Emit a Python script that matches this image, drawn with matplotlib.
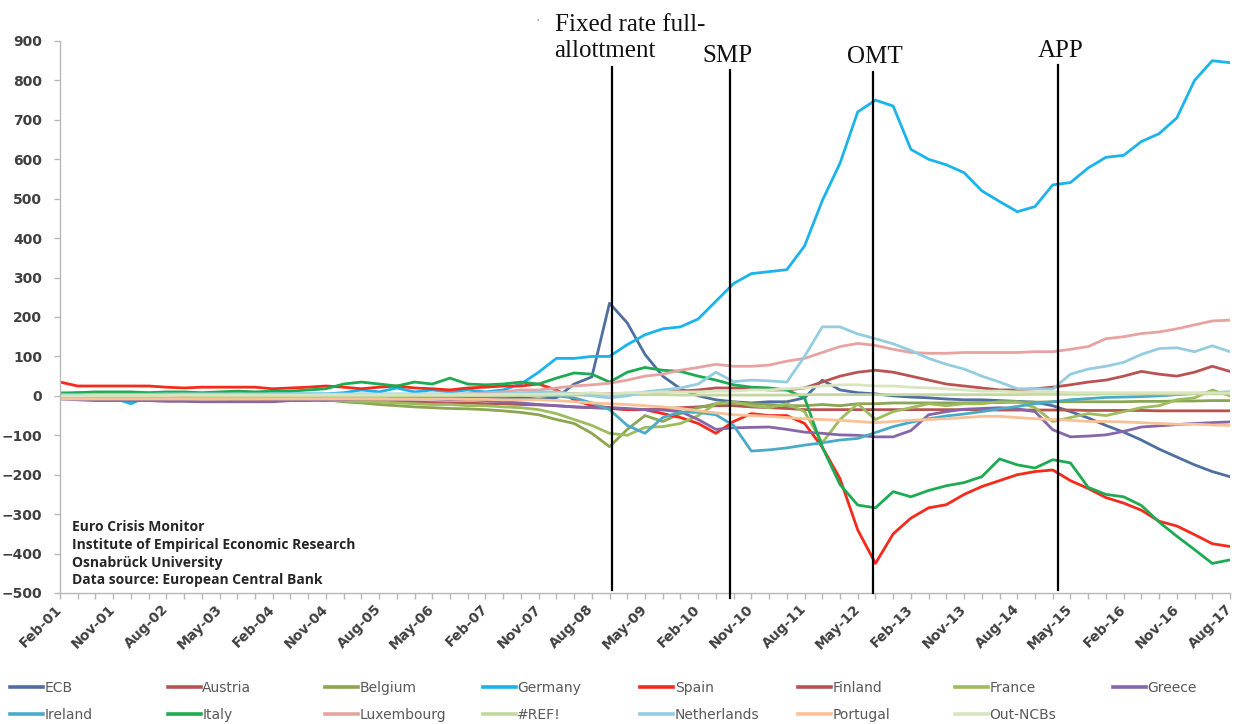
import numpy as np
import matplotlib
matplotlib.use("Agg")
import matplotlib.pyplot as plt
from matplotlib.lines import Line2D

# ---------------- data (quarterly readings, Feb-01 .. Aug-17) ----------------
month_index = list(range(0, 199, 3))   # months since Feb-01

ECB = [-5,-5,-5,-6,-6,-5,-5,-6,-6,-5,
       -5,-5,-6,-6,-5,-5,-5,-5,-6,-6,
       -5,-5,-5,-6,-6,-5,-5,-8,-5,30,
       48,235,185,105,50,18,0,-10,-15,-18,
       -15,-15,-5,40,15,8,5,0,-3,-5,
       -8,-10,-10,-12,-14,-16,-25,-40,-56,-75,
       -92,-112,-135,-155,-175,-192,-205]
Austria = [-5,-5,-6,-6,-6,-7,-7,-8,-8,-8,
           -9,-9,-10,-10,-10,-12,-12,-14,-15,-15,
           -16,-17,-18,-18,-20,-20,-22,-23,-25,-28,
           -30,-32,-35,-35,-33,-30,-28,-25,-25,-28,
           -30,-32,-35,-35,-35,-35,-35,-35,-35,-35,
           -35,-35,-35,-36,-36,-36,-36,-36,-37,-37,
           -37,-37,-38,-38,-38,-38,-38]
Belgium = [8,8,8,8,8,7,7,7,6,6,
           5,5,3,0,-5,-10,-15,-18,-22,-25,
           -28,-30,-32,-33,-35,-38,-42,-48,-60,-70,
           -95,-129,-85,-50,-65,-45,-30,-20,-18,-20,
           -22,-25,-25,-22,-25,-20,-20,-18,-18,-18,
           -18,-18,-17,-17,-16,-16,-15,-15,-15,-15,
           -15,-14,-14,-13,-13,-12,-12]
Germany = [5,5,3,-5,-20,0,3,5,5,3,
           5,5,5,5,5,5,8,15,10,20,
           10,15,10,15,10,15,30,60,95,95,
           100,100,130,155,170,175,195,240,285,310,
           315,320,380,495,590,720,750,735,625,600,
           586,566,520,493,467,480,535,541,578,605,
           610,645,665,705,800,850,845]
Spain = [35,25,25,25,25,25,22,20,22,22,
         22,22,18,20,22,25,22,18,22,25,
         20,18,15,20,22,25,25,30,15,-10,
         -25,-30,-35,-35,-45,-55,-70,-95,-65,-45,
         -50,-50,-70,-130,-210,-340,-425,-350,-310,-284,
         -276,-250,-230,-215,-200,-192,-188,-215,-235,-258,
         -272,-290,-318,-330,-352,-375,-382]
Finland = [0,0,0,0,0,0,-1,-1,-1,-1,
           -1,-1,-1,-2,-2,-2,-2,-2,-2,-2,
           -2,-2,-2,-2,0,2,5,5,5,5,
           5,5,5,8,10,12,15,20,20,18,
           15,15,20,35,50,60,65,60,50,40,
           30,25,20,15,15,18,22,28,35,40,
           50,62,55,50,60,75,62]
France = [0,0,0,0,0,0,0,0,0,0,
          0,-2,-3,-5,-8,-10,-12,-15,-15,-18,
          -20,-22,-22,-25,-25,-28,-30,-35,-45,-60,
          -75,-95,-100,-80,-78,-70,-50,-20,-15,-25,
          -30,-20,-40,-119,-60,-20,-60,-40,-30,-20,
          -25,-20,-20,-15,-15,-30,-65,-55,-45,-50,
          -40,-30,-25,-10,-5,15,0]
Greece = [-8,-10,-12,-12,-12,-12,-14,-14,-15,-15,
          -15,-15,-15,-12,-12,-10,-10,-8,-8,-8,
          -8,-8,-10,-10,-12,-15,-18,-22,-25,-28,
          -30,-30,-32,-35,-36,-40,-60,-85,-81,-80,
          -79,-85,-92,-95,-99,-100,-104,-104,-88,-48,
          -40,-34,-32,-30,-33,-40,-86,-104,-102,-99,
          -90,-79,-76,-73,-70,-68,-66]
Ireland = [2,2,3,3,3,3,3,3,3,3,
           3,3,3,3,3,3,3,3,3,3,
           3,3,3,3,3,3,3,2,0,-5,
           -18,-35,-75,-95,-55,-41,-42,-48,-75,-140,
           -137,-132,-125,-119,-112,-108,-93,-78,-67,-58,
           -51,-46,-40,-33,-27,-20,-15,-10,-7,-4,
           -3,-2,0,3,6,8,10]
Italy = [5,8,10,10,10,8,10,10,8,10,
         12,10,12,12,15,18,30,35,30,25,
         35,30,45,30,28,30,35,30,45,58,
         55,35,60,72,65,62,50,40,28,22,
         20,15,-5,-130,-225,-277,-284,-243,-256,-240,
         -228,-220,-205,-160,-175,-183,-162,-170,-232,-250,
         -256,-278,-320,-356,-390,-425,-416]
Luxembourg = [-5,-5,-5,-5,-5,-5,-5,-5,-5,-5,
              -5,-4,-4,-4,-3,-3,-3,-2,-2,0,
              0,2,3,5,8,10,15,15,20,25,
              28,32,40,50,55,65,72,80,75,75,
              78,88,95,110,125,133,128,118,110,108,
              108,110,110,110,110,112,112,118,125,145,
              150,158,162,170,180,190,192]
REF = [1,1,1,2,2,2,2,2,1,1,
       1,1,1,1,1,0,0,0,0,0,
       0,0,0,0,0,0,1,1,2,2,
       2,3,3,3,3,2,2,2,2,2,
       2,2,3,3,3,3,3,3,3,3,
       3,3,3,3,3,4,4,4,4,5,
       5,5,5,5,5,5,5]
Netherlands = [3,3,4,4,4,4,5,5,5,5,
               5,5,5,5,5,5,5,5,5,5,
               5,5,5,5,5,5,8,10,10,5,
               0,-5,0,10,15,20,30,60,36,40,
               38,35,100,175,175,157,145,132,115,95,
               80,68,50,35,18,18,17,55,68,75,
               85,105,120,122,112,127,112]
Portugal = [-8,-8,-8,-8,-8,-8,-8,-8,-8,-8,
            -8,-8,-8,-8,-8,-8,-8,-8,-8,-8,
            -8,-8,-8,-9,-9,-10,-10,-10,-12,-15,
            -18,-20,-22,-25,-28,-32,-38,-43,-48,-50,
            -52,-55,-58,-60,-62,-65,-68,-65,-62,-60,
            -58,-55,-52,-52,-55,-58,-60,-62,-65,-65,
            -66,-68,-70,-72,-72,-74,-75]
OutNCBs = [0,0,1,1,1,1,1,2,2,2,
           2,2,2,2,2,3,3,3,3,3,
           3,3,3,3,3,4,4,4,5,5,
           8,5,8,8,10,10,10,12,12,15,
           15,18,20,25,28,28,25,25,22,20,
           18,15,12,12,10,10,10,8,8,8,
           8,8,8,8,8,8,8]

series_names = ["ECB", "Austria", "Belgium", "Germany", "Spain", "Finland", "France", "Greece",
                "Ireland", "Italy", "Luxembourg", "#REF!", "Netherlands", "Portugal", "Out-NCBs"]
series_values = [ECB, Austria, Belgium, Germany, Spain, Finland, France, Greece,
                 Ireland, Italy, Luxembourg, REF, Netherlands, Portugal, OutNCBs]
series_colors = ["#4f6fa0", "#b65450", "#8ca552", "#1ab3ea", "#f42a1c", "#bb5252", "#9dbc5c", "#8566a8",
                 "#4aabc8", "#1cab52", "#e8a2a2", "#c4d79c", "#94cde0", "#f9c196", "#d8e5c0"]

tick_months = list(range(0, 199, 9))
tick_labels = ["Feb-01", "Nov-01", "Aug-02", "May-03", "Feb-04", "Nov-04", "Aug-05", "May-06",
               "Feb-07", "Nov-07", "Aug-08", "May-09", "Feb-10", "Nov-10", "Aug-11", "May-12",
               "Feb-13", "Nov-13", "Aug-14", "May-15", "Feb-16", "Nov-16", "Aug-17"]

event_names = ["Fixed rate full-\nallottment", "SMP", "OMT", "APP"]
event_months = [93.4, 113.4, 137.6, 168.9]
event_tops = [834, 827, 822, 839]
event_bottoms = [-493, -513, -500, -493]

note_lines = ["Euro Crisis Monitor", "Institute of Empirical Economic Research",
              "Osnabrück University", "Data source: European Central Bank"]

# ---------------- figure ----------------
W, H = 1235, 724
fig = plt.figure(figsize=(W / 100, H / 100), dpi=100)
fig.patch.set_facecolor("white")
ax = fig.add_axes([60 / W, 1 - 593 / H, (1230 - 60) / W, (593 - 41) / H])

for name, vals, col in zip(series_names, series_values, series_colors):
    ax.plot(month_index, vals, color=col, lw=2.0, solid_joinstyle="round", label=name)

ax.set_xlim(0, 198)
ax.set_ylim(-500, 900)
ax.set_yticks(range(-500, 901, 100))

for s in ["top", "right"]:
    ax.spines[s].set_visible(False)
for s in ["left", "bottom"]:
    ax.spines[s].set_color("#b8b8b8")
    ax.spines[s].set_linewidth(1.0)

ax.tick_params(axis="y", direction="out", length=4, width=1, color="#b8b8b8",
               pad=9, labelsize=10, labelcolor="#404040")
for t in ax.get_yticklabels():
    t.set_fontweight("bold")

ax.set_xticks(tick_months)
ax.set_xticks(list(range(0, 199, 3)), minor=True)
ax.set_xticklabels(tick_labels)
ax.tick_params(axis="x", which="both", direction="out", length=4, width=1, color="#b8b8b8")
ax.tick_params(axis="x", which="major", pad=6, labelsize=10, labelcolor="#404040")
for t in ax.get_xticklabels():
    t.set_rotation(45)
    t.set_ha("right")
    t.set_va("center")
    t.set_rotation_mode("anchor")
    t.set_fontweight("bold")

# event lines and labels
for name, m, top, bot in zip(event_names, event_months, event_tops, event_bottoms):
    ax.plot([m, m], [bot, top], color="black", lw=1.6, clip_on=False, zorder=5)
serif = dict(fontsize=18, family="Liberation Serif", color="#111111", clip_on=False)
ax.text(event_months[0] - 9.7, 860, event_names[0], ha="left", va="baseline",
        linespacing=1.25, **serif)
ax.text(event_months[0] - 12.5, 950, "·", ha="center", va="center",
        fontsize=10, color="#9a9a9a", clip_on=False)
ax.text(event_months[1] - 0.5, 847, event_names[1], ha="center", va="baseline", **serif)
ax.text(event_months[2] + 0.3, 845, event_names[2], ha="center", va="baseline", **serif)
ax.text(event_months[3] + 0.4, 860, event_names[3], ha="center", va="baseline", **serif)

# source note
for i, line in enumerate(note_lines):
    fig.text(72 / W, 1 - (527 + 17.8 * i) / H, line, ha="left", va="center",
             fontsize=10, fontweight="bold", family="Open Sans", color="#262626")

# legend: two rows of fixed-width columns
col_x = [10 + 157.5 * i for i in range(8)]
row_y = [688, 715]
for i, (name, col) in enumerate(zip(series_names, series_colors)):
    r, c = divmod(i, 8)
    h = Line2D([], [], color=col, lw=2.6)
    fig.legend(handles=[h], labels=[name], loc="center left",
               bbox_to_anchor=(col_x[c] / W, 1 - row_y[r] / H),
               frameon=False, fontsize=10, labelcolor="#595959",
               handlelength=2.4, handletextpad=0.1, borderpad=0, borderaxespad=0)

fig.savefig("out.png", dpi=100, facecolor="white")
